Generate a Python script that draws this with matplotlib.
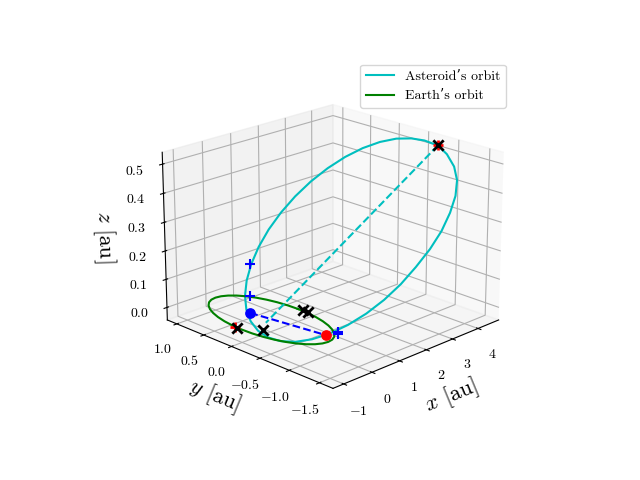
import matplotlib
matplotlib.use('Agg')
import matplotlib.pyplot as plt

plt.rcParams['font.family'] = ['cmr10', 'DejaVu Serif']
plt.rcParams['mathtext.fontset'] = 'cm'
plt.rcParams['axes.formatter.use_mathtext'] = True

# asteroid orbit
ast_x = [3.965, 3.885, 3.742, 3.542, 3.290, 2.994, 2.663, 2.306, 1.936, 1.5625, 1.198, 0.852,
         0.536, 0.260, 0.032, -0.141, -0.254, -0.304, -0.288, -0.208, -0.065, 0.135, 0.387, 0.683,
         1.0145, 1.371, 1.741, 2.1145, 2.479, 2.825, 3.1405, 3.417, 3.645, 3.818, 3.931, 3.981, 3.965]
ast_y = [-1.02, -1.201, -1.380, -1.514, -1.598, -1.640, -1.648, -1.621, -1.558, -1.482, -1.374, -1.239,
         -1.080, -0.902, -0.710, -0.510, -0.308, -0.111, 0.076, 0.247, 0.396, 0.520, 0.614, 0.676,
         0.704, 0.697, 0.654, 0.578, 0.470, 0.335, 0.176, -0.002, -0.194, -0.394, -0.596, -0.793, -1.02]
ast_z = [0.5455, 0.529, 0.502, 0.470, 0.430, 0.385, 0.334, 0.283, 0.230, 0.179, 0.130, 0.085,
         0.045, 0.011, -0.0155, -0.034, -0.0438, -0.0446, -0.0365, -0.0196, 0.0054, 0.038, 0.077, 0.1214,
         0.1696, 0.2204, 0.272, 0.323, 0.372, 0.417, 0.4572, 0.491, 0.5175, 0.536, 0.5456, 0.5486, 0.5455]

# earth orbit
earth_x = [1.0, 0.985, 0.94, 0.866, 0.766, 0.643, 0.5, 0.342, 0.174, 0.0, -0.174, -0.342,
           -0.5, -0.643, -0.766, -0.866, -0.94, -0.985, -1.0, -0.985, -0.94, -0.866, -0.766, -0.643,
           -0.5, -0.342, -0.174, 0.0, 0.174, 0.342, 0.5, 0.643, 0.766, 0.866, 0.94, 0.985, 1.0]
earth_y = [0.0, 0.174, 0.342, 0.5, 0.643, 0.766, 0.866, 0.94, 0.985, 1.0, 0.985, 0.94,
           0.866, 0.766, 0.643, 0.5, 0.342, 0.174, 0.0, -0.174, -0.342, -0.5, -0.643, -0.766,
           -0.866, -0.94, -0.985, -1.0, -0.985, -0.94, -0.866, -0.766, -0.643, -0.5, -0.342, -0.174, 0.0]

# marked positions
aph = [3.965, -1.02, 0.5455]
apse_end = [-0.12, 0.02, -0.01]
node_a = [-0.078, 0.32, 0.0]
node_b = [0.27, -0.84, 0.0]
plus_blue_x = [0.725, 0.151, 0.445, 0.44]
plus_blue_y = [0.714, 0.43, -0.95, -0.95]
plus_blue_z = [0.117, 0.043, 0.012, 0.006]
plus_red_x = [3.965, -1.0]
plus_red_y = [-1.02, 0.13]
plus_red_z = [0.5455, 0.0]
cross_x = [3.965, -1.0, -0.616, 1.12, 1.12]
cross_y = [-1.02, 0.08, -0.183, -0.04, -0.12]
cross_z = [0.5455, 0.0, 0.0, -0.005, -0.005]

x_ticks = [-1, 0, 1, 2, 3, 4]
y_ticks = [-1.5, -1.0, -0.5, 0.0, 0.5, 1.0]
z_ticks = [0.0, 0.1, 0.2, 0.3, 0.4, 0.5]

fig = plt.figure(figsize=(6.4, 4.8), dpi=100)
ax = fig.add_subplot(projection='3d')
ax.plot(ast_x, ast_y, ast_z, color='c', lw=1.5, label="Asteroid\u2019s orbit")
ax.plot(earth_x, earth_y, [0.0] * len(earth_x), color='g', lw=1.5, label="Earth\u2019s orbit")
ax.plot([aph[0], apse_end[0]], [aph[1], apse_end[1]], [aph[2], apse_end[2]], color='c', ls='--', lw=1.5)
ax.plot([node_a[0], node_b[0]], [node_a[1], node_b[1]], [node_a[2], node_b[2]], color='b', ls='--', lw=1.5)
ax.scatter(node_a[0], node_a[1], node_a[2], color='b', s=45, depthshade=False)
ax.scatter(node_b[0], node_b[1], node_b[2], color='r', s=45, depthshade=False)
ax.scatter(plus_red_x, plus_red_y, plus_red_z, color='r', marker='+', s=60, lw=2, depthshade=False)
ax.scatter(plus_blue_x, plus_blue_y, plus_blue_z, color='b', marker='+', s=60, lw=1.5, depthshade=False)
ax.scatter(cross_x, cross_y, cross_z, color='k', marker='x', s=55, lw=2, depthshade=False)

ax.view_init(elev=20, azim=-135)
ax.set_xlim(-1.37, 4.83)
ax.set_ylim(-1.72, 1.18)
ax.set_zlim(-0.045, 0.54)
ax.set_xticks(x_ticks)
ax.set_xticklabels(['$%d$' % t for t in x_ticks])
ax.set_yticks(y_ticks)
ax.set_yticklabels(['$%.1f$' % t for t in y_ticks])
ax.set_zticks(z_ticks)
ax.set_zticklabels(['$%.1f$' % t for t in z_ticks])
ax.set_xlabel(r'$x$ [au]', fontsize=16)
ax.set_ylabel(r'$y$ [au]', fontsize=16)
ax.set_zlabel(r'$z$ [au]', fontsize=16)
ax.legend(loc='upper right')

fig.savefig('out.png', dpi=100)
